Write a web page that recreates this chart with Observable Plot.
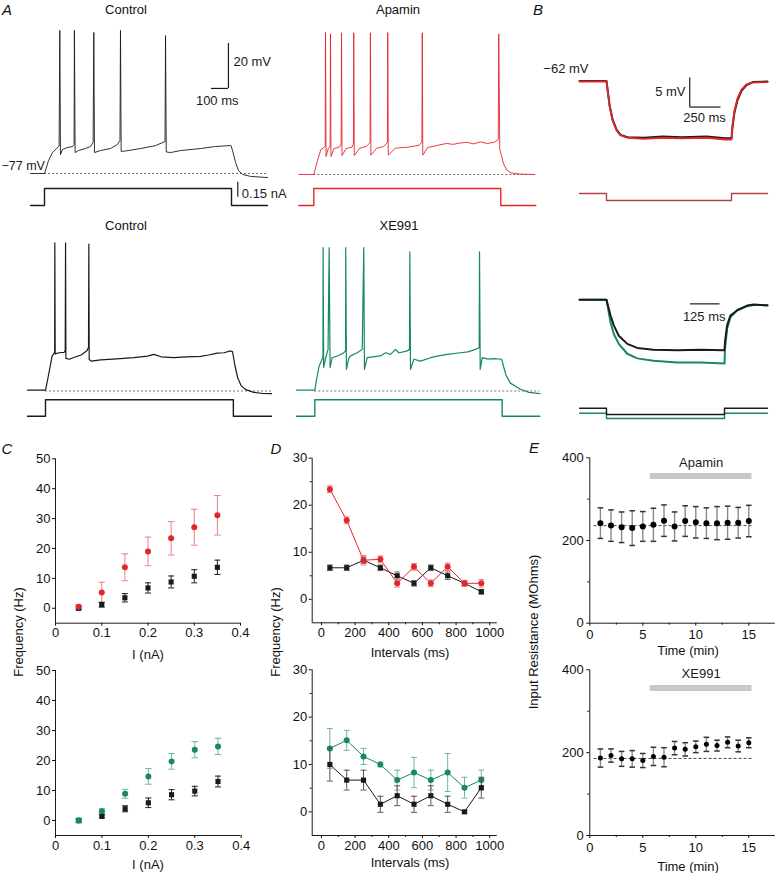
<!DOCTYPE html>
<html><head><meta charset="utf-8">
<script src="https://cdn.jsdelivr.net/npm/d3@7"></script>
<script src="https://cdn.jsdelivr.net/npm/@observablehq/plot@0.6"></script>
<style>
body{margin:0;background:#fff;}
#fig{position:relative;width:775px;height:873px;overflow:hidden;font-family:"Liberation Sans",Arial,Helvetica,sans-serif;color:#111;background:#fff;}
.cell{position:absolute;}
.cell svg{display:block;overflow:visible;background:transparent;}
.lbl{position:absolute;font-size:13px;white-space:nowrap;line-height:1;transform:translate(-50%,-50%);}
.rot{transform:translate(-50%,-50%) rotate(-90deg);}
.letter{position:absolute;font-size:15px;font-style:italic;line-height:1;transform:translate(-50%,-50%);}
</style></head><body><div id="fig"></div>
<script>
// ---------------- DATA ----------------
// Panel A traces: [time (ms from step onset), membrane potential (mV)]
const aControl1Trace = [[-82,-77],[0,-77],[24,-71.2],[47,-67.7],[71,-65.9],[86,-64.8],[90,-13.4],[94,-68.6],[106,-66.3],[129,-65.6],[165,-65],[174,-64.1],[176,-13.4],[180,-67.7],[200,-66.8],[241,-65.9],[271,-65],[286,-63.2],[290,-14.3],[294,-67.7],[329,-66.8],[388,-65.9],[429,-64.1],[444,-62.3],[447,-13.4],[451,-67.2],[476,-67],[565,-65.9],[653,-64.6],[709,-62.8],[712,-15.7],[716,-67.4],[741,-67.7],[800,-66.8],[918,-65.9],[1006,-65],[1088,-64.6],[1097,-64.6],[1106,-66.8],[1124,-72.1],[1141,-75.7],[1165,-77.4],[1212,-78.3],[1312,-78.8]];
const aApaminTrace = [[-88,-77],[0,-77],[22,-70.8],[41,-66],[60,-65],[67,-64.2],[69,-13.9],[72,-69],[85,-65.5],[96,-64.5],[98,-14.5],[101,-69],[118,-65.5],[150,-64.8],[161,-63.5],[163,-14],[166,-68.6],[190,-65.5],[225,-64.8],[233,-63.5],[235,-14],[238,-68.6],[270,-65.3],[310,-64.5],[331,-62.8],[333,-14],[336,-68.4],[370,-65.3],[410,-64.6],[433,-62.8],[435,-13.9],[438,-68.4],[480,-65.3],[560,-64.8],[620,-64],[636,-62.5],[638,-14],[641,-68.4],[670,-65],[720,-64.2],[780,-63.2],[820,-63.6],[860,-63],[900,-62.7],[940,-63.4],[980,-62.5],[1020,-63.2],[1060,-62.7],[1085,-61.5],[1088,-14.5],[1094,-66],[1102,-68],[1115,-72],[1135,-75],[1160,-76.3],[1210,-76.8],[1300,-77]];
const aControl2Trace = [[-106,-76.6],[0,-76.6],[10,-73],[20,-69],[39,-61.5],[50,-60.2],[54,-60],[55,-11.2],[57,-60.5],[80,-60],[110,-59.8],[116,-59],[118,-11.2],[120,-62.5],[140,-62.9],[170,-62],[210,-61],[245,-59],[253,-57.5],[255,-11.7],[257,-63],[269,-63.7],[324,-63.2],[420,-62.7],[520,-62.2],[600,-61.5],[637,-60.7],[680,-61.8],[755,-62.2],[830,-61.8],[912,-61.6],[960,-61],[1010,-60.2],[1050,-60],[1088,-59.2],[1100,-59.5],[1106,-62],[1115,-66],[1130,-71],[1150,-74.5],[1175,-76.3],[1220,-77.5],[1280,-78.1],[1329,-78.2]];
const aXeTrace = [[-108,-76.6],[0,-76.6],[10,-72],[25,-66],[43,-62.9],[48,-62],[49,-13.3],[52,-66.6],[65,-62],[78,-58.5],[84.5,-13.3],[90,-66.6],[102,-62.2],[140,-61.2],[171,-60],[181,-59],[182,-13.3],[186,-67.4],[200,-62.5],[210,-61.4],[250,-60],[279,-58.5],[288,-13.3],[292,-67.4],[308,-62.2],[386,-61.4],[416,-60],[445,-60.7],[475,-58.5],[494,-60],[520,-59.6],[543,-59.2],[557,-58.5],[559,-15.2],[563,-67.4],[583,-62.9],[622,-63.7],[681,-62.2],[720,-61.5],[779,-60.7],[857,-60],[900,-59.6],[945,-58.5],[967,-57.8],[969,-15.2],[973,-67.4],[985,-62.2],[1020,-62.8],[1053,-62.6],[1100,-62.9],[1110,-66],[1125,-70],[1150,-73.5],[1210,-76.2],[1260,-77.6],[1324,-78.2]];
// Panel A injected current: [time (ms), current (nA)]
const aCurrent1 = [[-82,0],[0,0],[0,0.17],[1100,0.17],[1100,0],[1312,0]];
const aCurrentApamin = [[-88,0],[0,0],[0,0.17],[1100,0.17],[1100,0],[1306,0]];
const aCurrent2 = [[-106,0],[0,0],[0,0.165],[1105,0.165],[1105,0],[1329,0]];
const aCurrentXe = [[-108,0],[0,0],[0,0.165],[1102,0.165],[1102,0],[1324,0]];
const aRestingMv = -77;
// Panel B traces
const bControlTop = [[-216,-61.9],[0,-61.9],[24,-66],[48,-68.5],[80,-70.3],[112,-71.2],[168,-71.6],[300,-71.7],[450,-71.5],[600,-71.6],[800,-71.5],[950,-71.8],[1000,-71.8],[1008,-69.8],[1024,-67.3],[1048,-65.2],[1080,-63.6],[1120,-62.6],[1170,-62.1],[1288,-62.0]];
const bApaminTop = [[-216,-62],[0,-62],[24,-66.1],[48,-68.7],[80,-70.4],[112,-71.3],[168,-71.7],[300,-71.9],[450,-71.7],[600,-71.8],[800,-71.7],[950,-72],[1000,-72],[1008,-69.6],[1024,-67],[1048,-64.9],[1080,-63.4],[1120,-62.5],[1170,-62.2],[1288,-62.1]];
const bCurrentTop = [[-216,0],[0,0],[0,-0.05],[1000,-0.05],[1000,0],[1288,0]];
const bControlBottom = [[-114,-62],[0,-62],[17,-64.7],[31,-66.4],[52,-68.2],[88,-69.6],[130,-70.3],[199,-70.6],[300,-70.7],[400,-70.6],[500,-70.7],[502,-69.3],[511,-66.4],[525,-64.7],[554,-63.8],[596,-63],[624,-62.8],[682,-63]];
const bXeBottom = [[-114,-62],[0,-62],[17,-65.9],[31,-67.9],[52,-69.6],[88,-71.3],[130,-72.1],[199,-72.5],[300,-72.8],[400,-72.8],[500,-73],[502,-70.4],[511,-67],[525,-65],[554,-63.8],[596,-63.1],[624,-62.9],[682,-62.9]];
const bCurrentControlBottom = [[-114,0],[0,0],[0,-0.045],[500,-0.045],[500,0],[682,0]];
const bCurrentXeBottom = [[-114,-0.036],[0,-0.036],[0,-0.074],[500,-0.074],[500,-0.036],[682,-0.036]];
const bRestingMv = -62;
// Panel C: firing frequency vs injected current
const cCurrent = [0.05,0.1,0.15,0.2,0.25,0.3,0.35];
const cApaminFreq = [0.5,5.3,13.7,19.0,23.4,27.1,31.1];
const cApaminErr = [0.6,3.4,4.5,4.8,5.6,6.0,6.6];
const cControl1Freq = [0,1.2,3.5,6.8,8.8,10.7,13.7];
const cControl1Err = [0.5,0.8,1.4,1.7,2.0,2.2,2.4];
const cXeFreq = [0,3.1,8.9,14.7,19.7,23.6,24.7];
const cXeErr = [0.8,0.8,1.5,2.6,2.6,2.7,2.7];
const cControl2Freq = [0,1.4,3.9,5.9,8.6,9.8,13.0];
const cControl2Err = [0.5,0.5,1.0,1.6,1.7,1.6,1.8];
// Panel D: instantaneous frequency vs interval
const dIntervals = [50,150,250,350,450,550,650,750,850,950];
const dApamin = [23.4,16.8,8.3,8.5,3.4,6.9,3.4,6.9,3.4,3.4];
const dApaminErr = [0.7,0.7,1.0,0.7,0.8,0.7,0.7,0.8,0.6,0.8];
const dControl1 = [6.7,6.7,8.3,6.7,5.0,3.4,6.7,5.0,3.4,1.6];
const dControl1Err = [0.6,0.6,0.7,0.6,0.8,0.6,0.6,0.8,0.6,0.5];
const dXe = [13.4,15.1,11.7,10.0,6.7,8.3,6.7,8.3,5.1,6.7];
const dXeErr = [4.2,2.1,1.7,0.5,2.1,3.2,2.1,4.0,2.2,2.1];
const dControl2 = [10.0,6.7,6.7,1.6,3.4,1.6,3.4,1.6,0,5.1];
const dControl2Err = [3.5,2.1,2.1,1.7,2.1,1.7,2.1,1.7,0.3,2.2];
// Panel E: input resistance over time
const eTime = [1,2,3,4,5,6,7,8,9,10,11,12,13,14,15];
const eApamin = [242,236,232,230,234,238,248,234,247,244,242,242,243,243,247];
const eApaminErr = [37,38,37,42,36,40,38,35,37,38,37,40,40,37,38];
const eXe = [187,193,185,185,181,191,189,211,208,214,220,217,225,216,224];
const eXeErr = [22,16,18,20,17,22,23,16,16,14,17,13,13,14,12];
const eBaselineApamin = 236, eBaselineXe = 186;
const eDashSpan = [0.4, 15.3];
const eDrugSpan = [5.7, 15.3];
const eDrugLevel = 356;

// ---------------- STYLE / LAYOUT ----------------
const FONT = "'Liberation Sans', Arial, Helvetica, sans-serif";
const STYLE = `background:transparent;overflow:visible;font-family:${FONT};font-size:13px;color:#111;`;
const RED = "#e3262d", RED_LIGHT = "#ec7f83", GREEN = "#17895d", GREEN_LIGHT = "#6fb798", INK = "#1a1a1a";
const fig = document.getElementById("fig");

function place(node, left, top) {
  const d = document.createElement("div");
  d.className = "cell"; d.style.left = left + "px"; d.style.top = top + "px";
  d.appendChild(node); fig.appendChild(d);
}
function label(text, cx, cy, cls = "lbl", extra = "") {
  const d = document.createElement("div");
  d.className = cls + (extra ? " " + extra : "");
  d.style.left = cx + "px"; d.style.top = cy + "px";
  d.textContent = text; fig.appendChild(d);
}
const X = d => d[0], Y = d => d[1];

function tracePlot(c, marks) {
  const {left, top, width, height, t0px, pxPerT, refPx, ref, pxPerUnit} = c;
  place(Plot.plot({
    width, height, margin: 0, style: STYLE,
    x: {domain: [(left - t0px) / pxPerT, (left + width - t0px) / pxPerT], axis: null},
    y: {domain: [ref - (top + height - refPx) / pxPerUnit, ref + (refPx - top) / pxPerUnit], axis: null},
    marks
  }), left, top);
}
function dashed(trace, v) {
  return Plot.ruleY([v], {x1: 0, x2: d3.max(trace, X), stroke: "#333", strokeWidth: 0.7, strokeDasharray: "2,2"});
}
function vBar(t, v1, v2) { return Plot.ruleX([{t, v1, v2}], {x: "t", y1: "v1", y2: "v2", stroke: INK, strokeWidth: 1.2}); }
function hBar(v, t1, t2) { return Plot.ruleY([{v, t1, t2}], {y: "v", x1: "t1", x2: "t2", stroke: INK, strokeWidth: 1.2}); }
function txt(s, t, v, opts = {}) { return Plot.text([{s, t, v}], {x: "t", y: "v", text: "s", fontSize: 13, fill: INK, ...opts}); }

const A_T = 0.17, A_V = 2.25, A_I = 100;
// ---- Panel A ----
tracePlot({left: 0, top: 20, width: 280, height: 162, t0px: 44, pxPerT: A_T, refPx: 173, ref: aRestingMv, pxPerUnit: A_V}, [
  dashed(aControl1Trace, aRestingMv),
  Plot.line(aControl1Trace, {x: X, y: Y, stroke: INK, strokeWidth: 0.9}),
  vBar(1082, -19.2, -39.2), hBar(-39.2, 982, 1082),
  txt("20 mV", 1082, -27.5, {textAnchor: "start", dx: 5}),
  txt("100 ms", 1016, -44.6),
  txt("\u221277 mV", -253, -73.8, {textAnchor: "start", fontSize: 12.5})
]);
tracePlot({left: 0, top: 180, width: 280, height: 35, t0px: 44, pxPerT: A_T, refPx: 205, ref: 0, pxPerUnit: A_I}, [
  Plot.line(aCurrent1, {x: X, y: Y, stroke: INK, strokeWidth: 1.4}),
  vBar(1137, 0.083, 0.233),
  txt("0.15 nA", 1137, 0.117, {textAnchor: "start", dx: 4})
]);
tracePlot({left: 280, top: 20, width: 260, height: 162, t0px: 313.3, pxPerT: A_T, refPx: 174, ref: aRestingMv, pxPerUnit: A_V}, [
  dashed(aApaminTrace, aRestingMv),
  Plot.line(aApaminTrace, {x: X, y: Y, stroke: RED, strokeWidth: 0.9})
]);
tracePlot({left: 280, top: 180, width: 260, height: 35, t0px: 313.3, pxPerT: A_T, refPx: 205, ref: 0, pxPerUnit: A_I}, [
  Plot.line(aCurrentApamin, {x: X, y: Y, stroke: RED, strokeWidth: 1.4})
]);
tracePlot({left: 0, top: 230, width: 280, height: 170, t0px: 45, pxPerT: A_T, refPx: 390.5, ref: aRestingMv, pxPerUnit: A_V}, [
  dashed(aControl2Trace, aRestingMv),
  Plot.line(aControl2Trace, {x: X, y: Y, stroke: INK, strokeWidth: 1.2})
]);
tracePlot({left: 0, top: 395, width: 280, height: 30, t0px: 45, pxPerT: A_T, refPx: 415.7, ref: 0, pxPerUnit: A_I}, [
  Plot.line(aCurrent2, {x: X, y: Y, stroke: INK, strokeWidth: 1.4})
]);
tracePlot({left: 280, top: 230, width: 260, height: 170, t0px: 314.3, pxPerT: A_T, refPx: 390.5, ref: aRestingMv, pxPerUnit: A_V}, [
  dashed(aXeTrace, aRestingMv),
  Plot.line(aXeTrace, {x: X, y: Y, stroke: GREEN, strokeWidth: 1.2})
]);
tracePlot({left: 280, top: 395, width: 260, height: 30, t0px: 314.3, pxPerT: A_T, refPx: 415.7, ref: 0, pxPerUnit: A_I}, [
  Plot.line(aCurrentXe, {x: X, y: Y, stroke: GREEN, strokeWidth: 1.4})
]);

// ---- Panel B ----
tracePlot({left: 540, top: 50, width: 235, height: 100, t0px: 606, pxPerT: 0.125, refPx: 81, ref: bRestingMv, pxPerUnit: 5.8}, [
  Plot.line(bControlTop, {x: X, y: Y, stroke: INK, strokeWidth: 2}),
  Plot.line(bApaminTop, {x: X, y: Y, stroke: RED, strokeWidth: 1.8}),
  vBar(666, -61.4, -66.4), hBar(-66.4, 666, 916),
  txt("5 mV", 632, -63.8, {textAnchor: "end"}),
  txt("250 ms", 784, -68.2),
  txt("\u221262 mV", -144, -59.9, {textAnchor: "end"})
]);
tracePlot({left: 540, top: 180, width: 235, height: 30, t0px: 606, pxPerT: 0.125, refPx: 193, ref: 0, pxPerUnit: 140}, [
  Plot.line(bCurrentTop, {x: X, y: Y, stroke: "#b5404a", strokeWidth: 1.4})
]);
tracePlot({left: 540, top: 270, width: 235, height: 110, t0px: 606, pxPerT: 0.236, refPx: 299.3, ref: bRestingMv, pxPerUnit: 5.8}, [
  Plot.line(bXeBottom, {x: X, y: Y, stroke: GREEN, strokeWidth: 2}),
  Plot.line(bControlBottom, {x: X, y: Y, stroke: INK, strokeWidth: 2}),
  hBar(-62.7, 356, 481),
  txt("125 ms", 414, -65)
]);
tracePlot({left: 540, top: 398, width: 235, height: 30, t0px: 606, pxPerT: 0.236, refPx: 407.7, ref: 0, pxPerUnit: 140}, [
  Plot.line(bCurrentXeBottom, {x: X, y: Y, stroke: GREEN, strokeWidth: 1.4}),
  Plot.line(bCurrentControlBottom, {x: X, y: Y, stroke: INK, strokeWidth: 1.4})
]);

// ---- Summary plots ----
const capSym = {draw(ctx, size) { const w = Math.sqrt(size / Math.PI); ctx.moveTo(-w, 0); ctx.lineTo(w, 0); }};
function rows(xs, ys, es) { return xs.map((x, i) => ({x, y: ys[i], e: es[i]})); }
function errorBars(data, color, capR = 3, width = 1) {
  return [
    Plot.ruleX(data, {x: "x", y1: d => d.y - d.e, y2: d => d.y + d.e, stroke: color, strokeWidth: width}),
    Plot.dot(data, {x: "x", y: d => d.y + d.e, symbol: capSym, r: capR, stroke: color, fill: "none", strokeWidth: 1}),
    Plot.dot(data, {x: "x", y: d => d.y - d.e, symbol: capSym, r: capR, stroke: color, fill: "none", strokeWidth: 1})
  ];
}
function statPlot(c, marks) {
  const axes = [
    Plot.ruleX([c.xd[0]], {stroke: INK, strokeWidth: 1}),
    Plot.ruleY([c.yd[0]], {stroke: INK, strokeWidth: 1}),
    Plot.axisX(c.xt, {anchor: "bottom", tickSize: 3, tickPadding: c.xpad ?? 2, tickFormat: c.xf, label: null, fontSize: 13}),
    Plot.axisY(c.yt, {anchor: "left", tickSize: 3, tickPadding: c.ypad ?? 2, tickFormat: d => String(d), label: null, fontSize: 13})
  ];
  if (c.xm) axes.push(Plot.axisX(c.xm, {anchor: "bottom", tickSize: 2, tickFormat: () => "", label: null}));
  if (c.ym) axes.push(Plot.axisY(c.ym, {anchor: "left", tickSize: 2, tickFormat: () => "", label: null}));
  place(Plot.plot({
    width: c.width, height: c.height,
    marginLeft: c.ml, marginRight: c.mr, marginTop: c.mt, marginBottom: c.mb,
    style: STYLE,
    x: {domain: c.xd, axis: null, label: null},
    y: {domain: c.yd, axis: null, label: null},
    marks: [...axes, ...marks]
  }), c.left, c.top);
}
const plainFmt = d => String(d);
const cTop = {xd: [0, 0.4], yd: [-5, 50], xt: [0, 0.1, 0.2, 0.3, 0.4], yt: [0, 10, 20, 30, 40, 50], xf: plainFmt, width: 260, ml: 55, mr: 20};
const dTop = {xd: [-55, 1045], yd: [-5, 30], xt: [0, 200, 400, 600, 800, 1000], xf: plainFmt, xm: [100, 300, 500, 700, 900], yt: [0, 10, 20, 30], ym: [5, 15, 25], width: 260, ml: 51.7, mr: 23.2};
const eTop = {xd: [0, 17.5], yd: [0, 400], xt: [0, 5, 10, 15], xf: plainFmt, xm: [2.5, 7.5, 12.5], yt: [0, 200, 400], ym: [100, 300], width: 255, ml: 69.3, mr: 0.2, xpad: 4, ypad: 3};

// C
const cApRows = rows(cCurrent, cApaminFreq, cApaminErr), cC1Rows = rows(cCurrent, cControl1Freq, cControl1Err);
const cXeRows = rows(cCurrent, cXeFreq, cXeErr), cC2Rows = rows(cCurrent, cControl2Freq, cControl2Err);
statPlot({...cTop, left: 0, top: 420, height: 240, mt: 38.3, mb: 37.3}, [
  ...errorBars(cApRows, RED_LIGHT, 3.3),
  ...errorBars(cC1Rows, INK, 3),
  Plot.dot(cC1Rows, {x: "x", y: "y", symbol: "square", r: 2.9, fill: INK}),
  Plot.dot(cApRows, {x: "x", y: "y", r: 3, fill: RED})
]);
statPlot({...cTop, left: 0, top: 640, height: 233, mt: 30, mb: 38, mr: 19.3}, [
  ...errorBars(cXeRows, GREEN_LIGHT, 3.3),
  ...errorBars(cC2Rows, INK, 3),
  Plot.dot(cC2Rows, {x: "x", y: "y", symbol: "square", r: 2.9, fill: INK}),
  Plot.dot(cXeRows, {x: "x", y: "y", r: 3, fill: GREEN})
]);
// D
const dApRows = rows(dIntervals, dApamin, dApaminErr), dC1Rows = rows(dIntervals, dControl1, dControl1Err);
const dXeRows = rows(dIntervals, dXe, dXeErr), dC2Rows = rows(dIntervals, dControl2, dControl2Err);
statPlot({...dTop, left: 260, top: 420, height: 240, mt: 37.7, mb: 37.7}, [
  Plot.line(dC1Rows, {x: "x", y: "y", stroke: INK, strokeWidth: 1}),
  ...errorBars(dC1Rows, "#777", 3),
  Plot.dot(dC1Rows, {x: "x", y: "y", symbol: "square", r: 2.9, fill: INK}),
  Plot.line(dApRows, {x: "x", y: "y", stroke: RED, strokeWidth: 1}),
  ...errorBars(dApRows, RED_LIGHT, 3),
  Plot.dot(dApRows, {x: "x", y: "y", r: 3, fill: RED})
]);
statPlot({...dTop, left: 260, top: 640, height: 233, mt: 29.3, mb: 38}, [
  Plot.line(dXeRows, {x: "x", y: "y", stroke: GREEN, strokeWidth: 1}),
  ...errorBars(dXeRows, GREEN_LIGHT, 3),
  Plot.dot(dXeRows, {x: "x", y: "y", r: 3, fill: GREEN}),
  Plot.line(dC2Rows, {x: "x", y: "y", stroke: INK, strokeWidth: 1}),
  ...errorBars(dC2Rows, "#555", 3),
  Plot.dot(dC2Rows, {x: "x", y: "y", symbol: "square", r: 2.9, fill: INK})
]);
// E
const eApRows = rows(eTime, eApamin, eApaminErr), eXeRows = rows(eTime, eXe, eXeErr);
function eMarks(data, base, drugLabel, labelLevel, r) {
  return [
    Plot.ruleY([eDrugLevel], {x1: eDrugSpan[0], x2: eDrugSpan[1], stroke: "#c8c8c8", strokeWidth: 6}),
    Plot.text([drugLabel], {x: (eDrugSpan[0] + eDrugSpan[1]) / 2, y: labelLevel, text: d => d, fontSize: 13, fill: INK}),
    Plot.ruleY([base], {x1: eDashSpan[0], x2: eDashSpan[1], stroke: INK, strokeWidth: 0.8, strokeDasharray: "3,2"}),
    Plot.ruleX(data, {x: "x", y1: d => d.y - d.e, y2: d => d.y + d.e, stroke: "#8a8a8a", strokeWidth: 1.4}),
    Plot.dot(data, {x: "x", y: d => d.y + d.e, symbol: capSym, r: 2.8, stroke: "#333", fill: "none"}),
    Plot.dot(data, {x: "x", y: d => d.y - d.e, symbol: capSym, r: 2.8, stroke: "#333", fill: "none"}),
    Plot.dot(data, {x: "x", y: "y", r, fill: "#000"})
  ];
}
statPlot({...eTop, left: 520, top: 420, height: 240, mt: 37.3, mb: 37.3}, eMarks(eApRows, eBaselineApamin, "Apamin", 387, 3));
statPlot({...eTop, left: 520, top: 640, height: 233, mt: 29.3, mb: 38}, eMarks(eXeRows, eBaselineXe, "XE991", 391, 2.5));

// ---- Text labels ----
label("A", 7, 9, "letter"); label("B", 538, 9, "letter");
label("C", 7, 448, "letter"); label("D", 276, 448, "letter"); label("E", 534, 447, "letter");
label("Control", 126, 9); label("Apamin", 398, 9);
label("Control", 126, 225); label("XE991", 399, 225);
label("Frequency (Hz)", 18, 632, "lbl", "rot");
label("Frequency (Hz)", 275, 632, "lbl", "rot");
label("Input Resistance (MOhms)", 533, 632, "lbl", "rot");
label("I (nA)", 148, 654); label("I (nA)", 148, 864);
label("Intervals (ms)", 410, 652); label("Intervals (ms)", 410, 862);
label("Time (min)", 688, 650); label("Time (min)", 688, 866);
</script></body></html>
